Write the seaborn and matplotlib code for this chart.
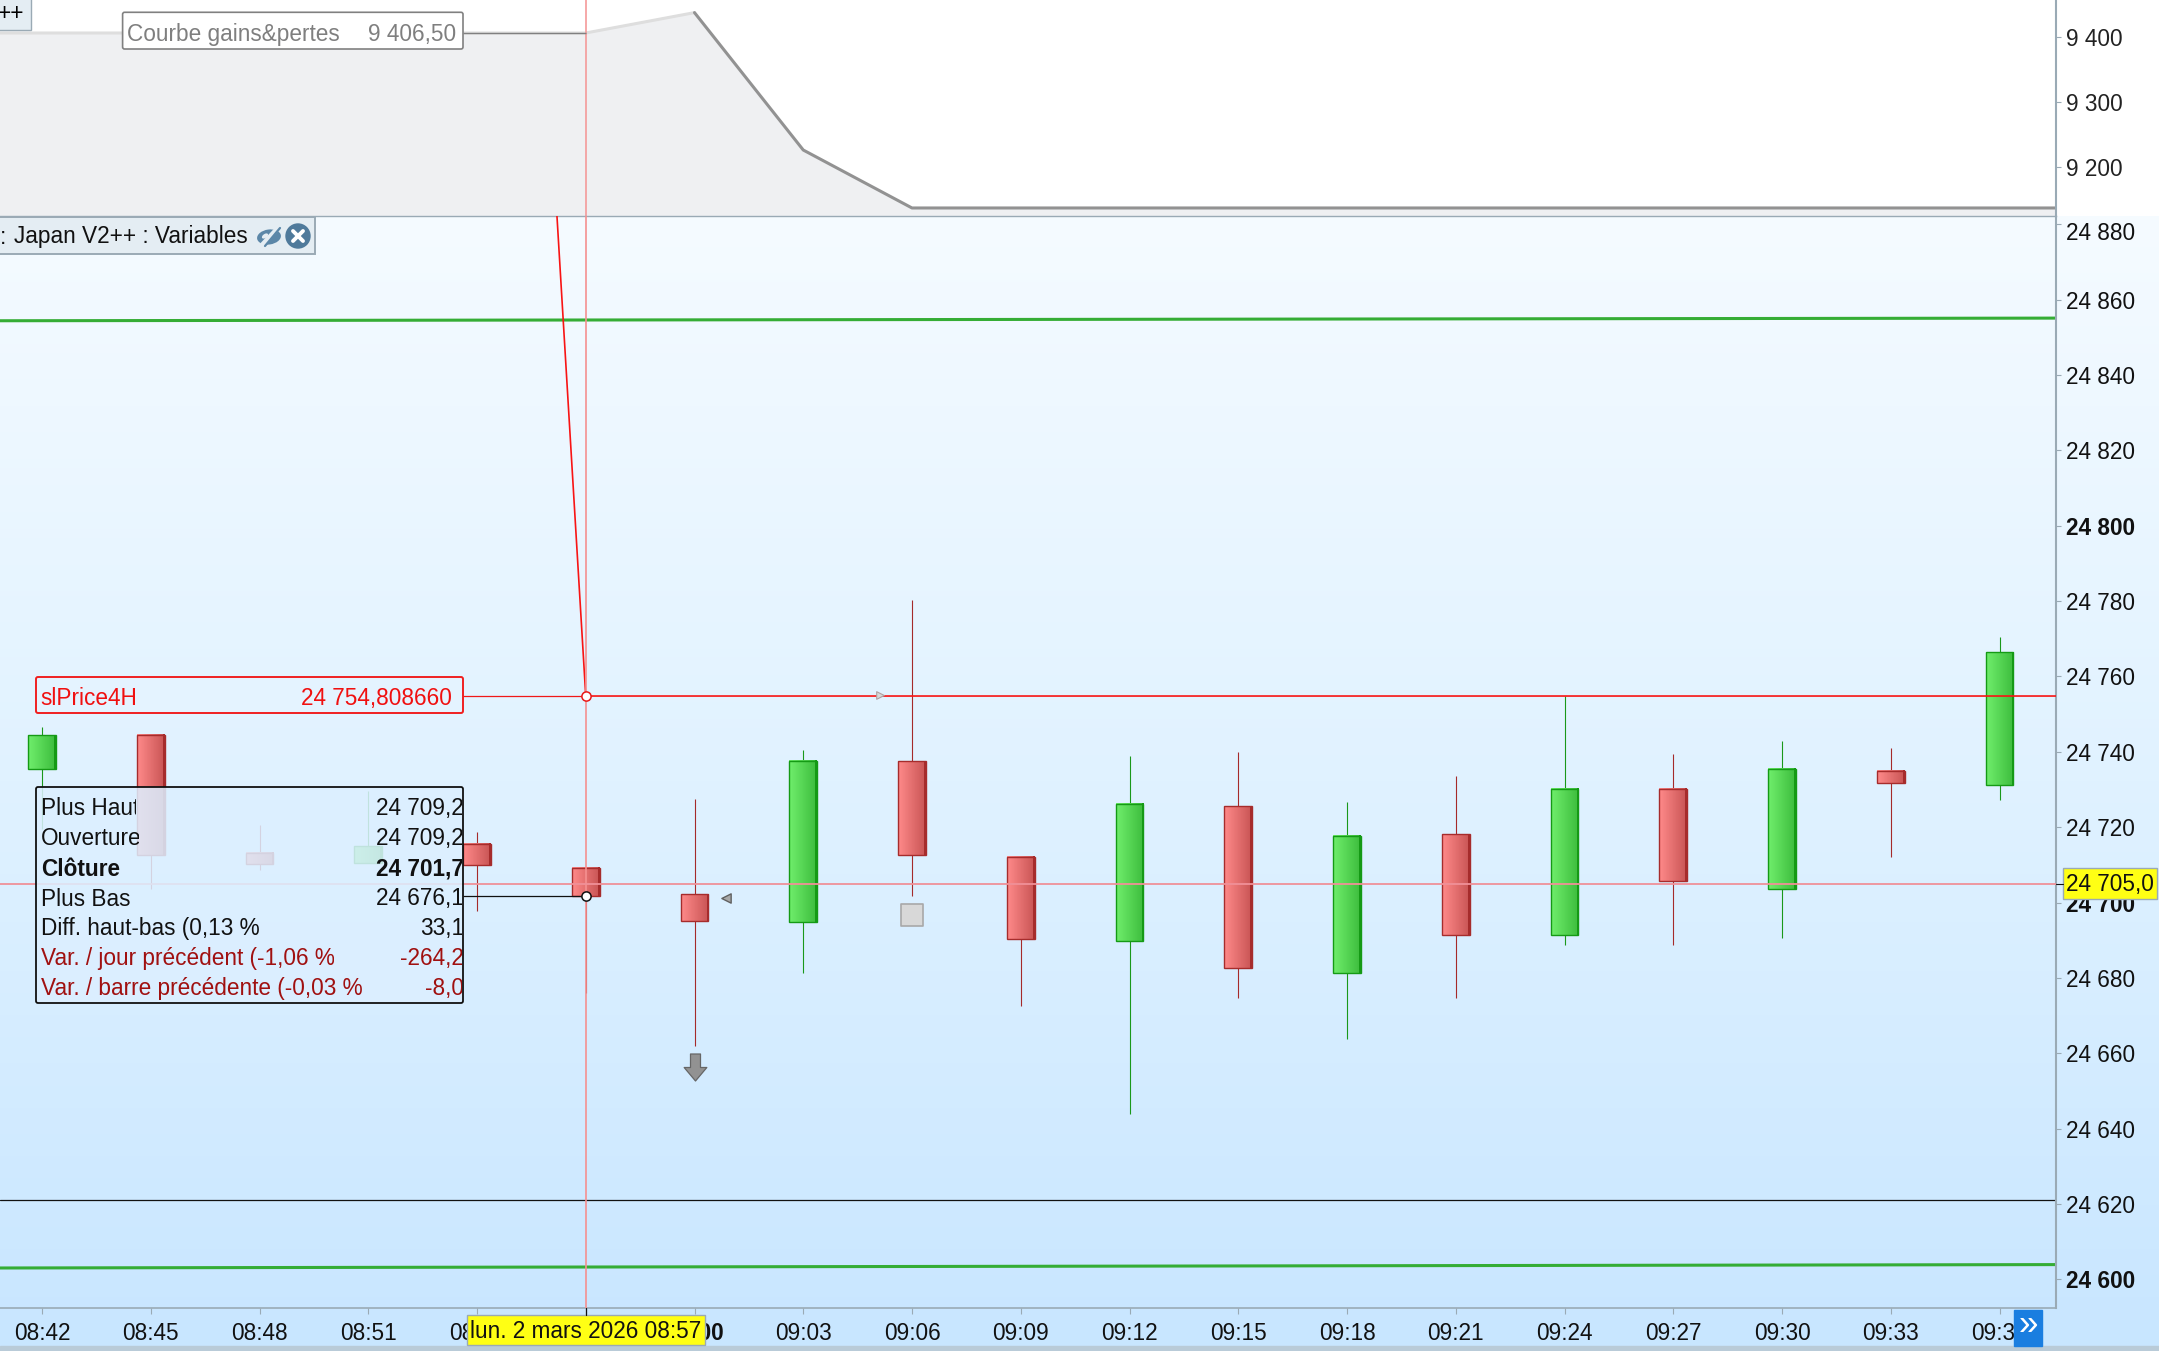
import numpy as np
import pandas as pd
import matplotlib
matplotlib.use("Agg")
import matplotlib.pyplot as plt
import seaborn as sns
from matplotlib.colors import LinearSegmentedColormap, to_rgb
from matplotlib.patches import Rectangle, FancyBboxPatch, Circle, Ellipse
from matplotlib.path import Path
from matplotlib.ticker import FixedLocator, FuncFormatter
from matplotlib.transforms import ScaledTranslation

W, H = 2159, 1351

# bars, 3 minute candles
times = ["08:42", "08:45", "08:48", "08:51", "08:54", "08:57", "09:00", "09:03", "09:06", "09:09",
         "09:12", "09:15", "09:18", "09:21", "09:24", "09:27", "09:30", "09:33", "09:36"]
opens = [24735.5, 24744.5, 24713.1, 24710.6, 24715.6, 24709.2, 24702.2, 24694.7, 24737.5, 24712.2,
         24689.7, 24725.6, 24681.2, 24718.1, 24691.4, 24730.2, 24703.6, 24734.9, 24731.2]
closes = [24744.5, 24712.6, 24710.1, 24714.9, 24710, 24701.7, 24695.1, 24737.5, 24712.6, 24690.3,
          24726.1, 24682.7, 24717.6, 24691.4, 24730.2, 24705.6, 24735.5, 24731.6, 24766.4]
highs = [24746.5, 24744.5, 24720.6, 24729.6, 24718.6, 24709.2, 24727.6, 24740.5, 24780.4, 24712.2,
         24738.9, 24740, 24726.6, 24733.5, 24754.8, 24739.5, 24742.9, 24741.1, 24770.4]
lows = [24719.6, 24703.6, 24708.6, 24710.6, 24697.7, 24676.1, 24661.8, 24681.2, 24701.7, 24672.4,
        24643.9, 24674.7, 24663.8, 24674.7, 24688.7, 24688.7, 24690.7, 24712.2, 24727.2]

# indicator lines
sl_x = [4, 5, 18.52]
sl_values = [25236, 24754.8, 24754.8]
upper_green = [24854.4, 24855.1]
lower_green = [24603, 24603.9]
black_level = 24621
cursor_price = 24705

# equity panel
equity_faded_x = [-1, 5, 6]
equity_faded = [9406.5, 9406.5, 9438]
equity_x = [6, 7, 8, 18.52]
equity = [9438, 9225.6, 9136, 9136]

price_ticks = list(range(24600, 24881, 20))
equity_ticks = [9200, 9300, 9400]

tooltip_rows = [("Plus Haut", "24 709,2"), ("Ouverture", "24 709,2"), ("Clôture", "24 701,7"),
                ("Plus Bas", "24 676,1"), ("Diff. haut-bas (0,13 %", "33,1"),
                ("Var. / jour précédent (-1,06 %", "-264,2"), ("Var. / barre précédente (-0,03 %", "-8,0")]

sns.set_theme(style="white")
plt.rcParams["font.family"] = ["Liberation Sans", "DejaVu Sans"]
FS = 16.3

X0, DX = 42.0, 108.75   # pixel of first bar, pixels per bar
RIGHT, SPLIT, BOTTOM = 2056, 216, 1308
xlim = (-X0 / DX, (RIGHT - X0) / DX)
GRID = "#9aaab5"
BOX_X = (463 - X0) / DX

fig = plt.figure(figsize=(W / 100, H / 100), dpi=100, facecolor="white")

# background gradient behind the price panel and axes
bg = fig.add_axes([0, 0, 1, 1], zorder=0)
bg.set_xlim(0, W)
bg.set_ylim(H, 0)
bg.axis("off")
grad = LinearSegmentedColormap.from_list("bg", ["#f5fbff", "#e0f2ff", "#c8e6ff"])
bg.imshow(np.linspace(0, 1, 256).reshape(-1, 1), cmap=grad, extent=(0, W, BOTTOM + 38, SPLIT),
          aspect="auto", zorder=0)
bg.add_patch(Rectangle((0, 1346), W, 5, color="#b9cbd8", zorder=1))
bg.set_xlim(0, W)
bg.set_ylim(H, 0)

# equity panel
top = fig.add_axes([0, 1 - SPLIT / H, RIGHT / W, SPLIT / H], zorder=1)
top.patch.set_alpha(0)
top.set_xlim(*xlim)
top.set_ylim(9123.6, 9457.5)
fill_x = equity_faded_x[:-1] + equity_x
fill_y = equity_faded[:-1] + equity
top.fill_between(fill_x, fill_y, 9123.6, color="#eff0f2", lw=0)
sns.lineplot(x=equity_faded_x, y=equity_faded, ax=top, color="#dedede", linewidth=2.2, errorbar=None)
sns.lineplot(x=equity_x, y=equity, ax=top, color="#929292", linewidth=2.2, errorbar=None, sort=False)
top.axvline(5, color="#f59a9a", lw=1.2)
top.hlines(equity_faded[0], BOX_X, 5, color="#808080", lw=1)
top.yaxis.tick_right()
top.yaxis.set_major_locator(FixedLocator(equity_ticks))
top.yaxis.set_major_formatter(FuncFormatter(lambda v, p: f"{int(v):,}".replace(",", " ")))
top.tick_params(axis="y", length=3.6, width=0.8, color=GRID, labelsize=FS, pad=3.5, right=True, labelcolor="#222222")
top.set_xticks([])
top.set_xlabel("")
top.set_ylabel("")
for s in ["left", "top"]:
    top.spines[s].set_visible(False)
top.spines["right"].set_color(GRID)
top.spines["right"].set_linewidth(1.5)
top.spines["bottom"].set_color(GRID)
top.spines["bottom"].set_linewidth(1)

# price panel
ax = fig.add_axes([0, 1 - BOTTOM / H, RIGHT / W, (BOTTOM - SPLIT) / H], zorder=2)
ax.patch.set_alpha(0)
idx = np.arange(len(times))
df = pd.DataFrame({"idx": idx, "open": opens, "close": closes, "high": highs, "low": lows})
df["base"] = df[["open", "close"]].min(axis=1)
df["size"] = (df["close"] - df["open"]).abs()
df["up"] = df["close"] > df["open"]

ax.vlines(df.idx[df.up], df.low[df.up], df.high[df.up], color="#1a981a", lw=0.8, zorder=2)
ax.vlines(df.idx[~df.up], df.low[~df.up], df.high[~df.up], color="#a52a2a", lw=0.8, zorder=2)

sns.barplot(data=df, x="idx", y="size", bottom=df["base"].values, native_scale=True, width=0.254,
            errorbar=None, color="#888888", ax=ax, zorder=3)
# left to right shading with a darker strip on the right side of each body
green_cm = LinearSegmentedColormap.from_list("g", [(0, "#70ee6c"), (0.93, "#40c040"), (0.94, "#159a15"), (1, "#159a15")])
red_cm = LinearSegmentedColormap.from_list("r", [(0, "#ff8a8a"), (0.93, "#cc5858"), (0.94, "#a62c2c"), (1, "#a62c2c")])
for bar, up in zip(list(ax.patches), df["up"]):
    bar.set_edgecolor("#159a15" if up else "#a62c2c")
    bar.set_linewidth(1.0)
    bar.set_facecolor("none")
    bar.set_zorder(4)
    x0, y0, w, h = bar.get_x(), bar.get_y(), bar.get_width(), bar.get_height()
    ax.imshow(np.linspace(0, 1, 64).reshape(1, -1), cmap=green_cm if up else red_cm,
              extent=(x0, x0 + w, y0, y0 + h), aspect="auto", zorder=3, interpolation="nearest")

sns.lineplot(x=list(xlim), y=upper_green, ax=ax, color="#35ad35", linewidth=2.2, errorbar=None)
sns.lineplot(x=list(xlim), y=lower_green, ax=ax, color="#35ad35", linewidth=2.2, errorbar=None)
ax.axhline(black_level, color="#111111", lw=0.9)
sns.lineplot(x=sl_x, y=sl_values, ax=ax, color="#f81414", linewidth=1.2, errorbar=None, sort=False, zorder=5)
ax.hlines(sl_values[1], BOX_X, 5, color="#f01818", lw=0.9, zorder=5)
ax.hlines(closes[5], BOX_X, 5, color="#111111", lw=0.9, zorder=5)
ax.axvline(5, color="#f59090", lw=1.2, zorder=5)
ax.axhline(cursor_price, color="#f09098", lw=1.3, zorder=5)

ax.scatter([5], [sl_values[1]], s=44, facecolor="white", edgecolor="#e81818", lw=1.1, zorder=7)
ax.scatter([5], [closes[5]], s=44, facecolor="white", edgecolor="#111111", lw=1.1, zorder=7)

# order markers
arrow = Path([(-0.37, 1), (0.37, 1), (0.37, 0), (0.84, 0), (0, -1), (-0.84, 0), (-0.37, 0), (-0.37, 1)], closed=True)
ax.scatter([6], [24656.4], marker=arrow, s=378, facecolor="#929292", edgecolor="#666666", lw=0.9, zorder=6)
ax.scatter([8], [24696.8], marker="s", s=250, facecolor="#d8d8d8", edgecolor="#a8a8a8", lw=1.2, zorder=6)
ax.scatter([6.29], [24701.1], marker="<", s=45, facecolor="#a8a8a8", edgecolor="#606060", lw=1.0, zorder=6)
ax.scatter([7.71], [24755], marker=">", s=30, facecolor="#d8d8d8", edgecolor="#b0a0a0", lw=0.8, zorder=6)

ax.set_xlim(*xlim)
ax.set_ylim(24592.38, 24882.2)
ax.set_xlabel("")
ax.set_ylabel("")
ax.yaxis.tick_right()
ax.yaxis.set_major_locator(FixedLocator(price_ticks))
ax.yaxis.set_major_formatter(FuncFormatter(lambda v, p: f"{int(v):,}".replace(",", " ")))
ax.tick_params(axis="y", length=3.6, width=0.8, color=GRID, labelsize=FS, pad=3.5, right=True, labelcolor="#111111")
for lab, v in zip(ax.get_yticklabels(), price_ticks):
    if v % 100 == 0:
        lab.set_fontweight("bold")
    # the top label is pushed down inside the panel
    if v == 24880:
        lab.set_transform(lab.get_transform() + ScaledTranslation(0, -6.5 / 100, fig.dpi_scale_trans))
ax.xaxis.set_major_locator(FixedLocator(idx))
ax.set_xticklabels(times)
ax.tick_params(axis="x", length=4, width=0.8, color=GRID, labelsize=FS, pad=6, bottom=True, labelcolor="#111111")
for lab, t in zip(ax.get_xticklabels(), times):
    if t == "09:00":
        lab.set_fontweight("bold")
for s in ["left", "top"]:
    ax.spines[s].set_visible(False)
ax.spines["right"].set_color(GRID)
ax.spines["right"].set_linewidth(1.5)
ax.spines["bottom"].set_color(GRID)
ax.spines["bottom"].set_linewidth(1.2)

# overlay in pixels: tooltip, labels, small buttons
ui = fig.add_axes([0, 0, 1, 1], zorder=3)
ui.set_xlim(0, W)
ui.set_ylim(H, 0)
ui.axis("off")


def box(x0, y0, x1, y1, fc, ec, lw=1.0, alpha=1.0, z=2):
    ui.add_patch(FancyBboxPatch((x0 + 2, y0 + 2), x1 - x0 - 4, y1 - y0 - 4, boxstyle="round,pad=2",
                                facecolor=(*to_rgb(fc), alpha), edgecolor=ec, lw=lw, zorder=z))


def clip_x(text, x0, x1):
    text.set_clip_path(Rectangle((x0, 0), x1 - x0, H, transform=ui.transData))
    text.set_clip_on(True)


# top left tab and legend tab
ui.add_patch(Rectangle((-2, -2), 33, 32, facecolor="#e4edf3", edgecolor="#9aaab5", lw=1, zorder=2))
ui.text(24, 14, "++", ha="right", va="center", fontsize=FS, color="black", zorder=3)
ui.add_patch(Rectangle((-2, 217), 317, 37, facecolor="#e4edf3", edgecolor="#9aaab5", lw=1.4, zorder=2))
ui.text(0, 237, ":", ha="left", va="center", fontsize=FS, color="#111111", zorder=3)
ui.text(14, 237, "Japan V2++ : Variables", ha="left", va="center", fontsize=FS, color="#111111", zorder=3)
# hidden-eye icon
ui.add_patch(Ellipse((269, 237), 24, 15, angle=-8, facecolor="#5b87a8", edgecolor="none", zorder=3))
ui.plot([262, 277], [245, 229], color="#e4edf3", lw=3.4, solid_capstyle="butt", zorder=4)
ui.plot([265, 280], [246, 228], color="#5b87a8", lw=1.6, zorder=5)
ui.add_patch(Ellipse((265, 236), 7, 4, angle=-35, facecolor="#e4edf3", edgecolor="none", zorder=4))
# close icon
ui.add_patch(Circle((298, 236), 12, color="#4f7a9b", zorder=3))
ui.plot([293, 303], [231, 241], color="white", lw=2.8, solid_capstyle="round", zorder=4)
ui.plot([293, 303], [241, 231], color="white", lw=2.8, solid_capstyle="round", zorder=4)

# equity label
box(122.6, 12.3, 463, 49, "white", "#808080", lw=1.2)
ui.text(127, 34, "Courbe gains&pertes", ha="left", va="center", fontsize=FS, color="#7f7f7f", zorder=3)
ui.text(456, 34, "9 406,50", ha="right", va="center", fontsize=FS, color="#7f7f7f", zorder=3)

# indicator label
box(36, 677, 463, 713, "#e4f3ff", "#f02020", lw=1.4)
ui.text(40, 698.5, "slPrice4H", ha="left", va="center", fontsize=FS, color="#f01010", zorder=3)
ui.text(452, 698.5, "24 754,808660", ha="right", va="center", fontsize=FS, color="#f01010", zorder=3)

# tooltip, the reference cuts some texts at their column edge
box(36, 787, 463, 1003, "#dcefff", "#111111", lw=1.3, alpha=0.86)
row_ys = [808.5, 838.5, 869, 899, 929, 959, 989]
name_ends = [136, 139, 300, 300, 300, 334, 362]
for i, ((name, val), y) in enumerate(zip(tooltip_rows, row_ys)):
    col = "#a01010" if i >= 5 else "#111111"
    wt = "bold" if i == 2 else "normal"
    t1 = ui.text(41, y, name, ha="left", va="center", fontsize=FS, color=col, fontweight=wt, zorder=3)
    clip_x(t1, 38, name_ends[i])
    t2 = ui.text(464, y, val, ha="right", va="center", fontsize=FS, color=col, fontweight=wt, zorder=3)
    clip_x(t2, 340, 462)

# cursor labels
ui.add_patch(Rectangle((2063.3, 867.5), 93.4, 31, facecolor="#ffff14", edgecolor="#9aaab5", lw=1, zorder=3))
ui.text(2066, 884, "24 705,0", ha="left", va="center", fontsize=FS, color="#111111", zorder=4)
ui.plot([2056, 2063], [884, 884], color="#111111", lw=0.8, zorder=3)
ui.add_patch(Rectangle((467, 1315), 237.6, 30, facecolor="#ffff14", edgecolor="#9aaab5", lw=1, zorder=3))
ui.text(470, 1332, "lun. 2 mars 2026 08:57", ha="left", va="center", fontsize=FS, color="#111111", zorder=4)
ui.plot([585.5, 585.5], [1308, 1315], color="#111111", lw=0.9, zorder=3)

# scroll button
ui.add_patch(Rectangle((2013.7, 1309.5), 28.3, 36.5, color="#1a7ee0", zorder=3))
ui.text(2028, 1325, "»", ha="center", va="center", fontsize=FS + 9, color="white", zorder=4)
ui.set_xlim(0, W)
ui.set_ylim(H, 0)

fig.savefig("out.png", dpi=100)
